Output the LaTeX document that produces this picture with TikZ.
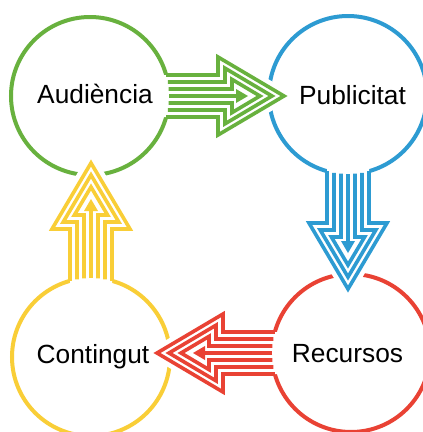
\documentclass[tikz,border=0pt]{standalone}
\usepackage{fontspec}
\setmainfont{Liberation Sans}
\definecolor{cgreen}{RGB}{104,177,62}
\definecolor{cblue}{RGB}{45,155,210}
\definecolor{cred}{RGB}{233,66,52}
\definecolor{cyellow}{RGB}{249,206,55}
\tikzset{
  ring/.style={circle, draw=#1, line width=4pt, minimum size=158pt, inner sep=0pt},
  word/.style={font=\fontsize{26.3}{30}\selectfont, anchor=base, inner sep=0pt, text=black},
  stripe/.style={draw=#1, line width=3.6pt, line join=miter, line cap=butt},
}
% Striped flow arrow leaving ring #1 in direction #2 (degrees), colour #3
\newcommand\flowarrow[3]{%
  \begin{scope}[shift={(#1.center)}, rotate=#2]
    % clear the ring under the shaft and around the head
    \fill[white] ({sqrt(5800)-4},21) -- (128,21) -- (128,39) -- (194,0)
      -- (128,-39) -- (128,-21) -- ({sqrt(5800)-4},-21) -- cycle;
    \draw[white, line width=13pt, line join=miter]
      (128,30) -- (128,39) -- (194,0) -- (128,-39) -- (128,-30);
    % nested outlines
    \draw[stripe=#3] ({sqrt(5800)},21) -- (128,21) -- (128,39) -- (194,0)
      -- (128,-39) -- (128,-21) -- ({sqrt(5800)},-21);
    \draw[stripe=#3] ({sqrt(6045)},14) -- (135,14) -- (135,27.8) -- (182,0)
      -- (135,-27.8) -- (135,-14) -- ({sqrt(6045)},-14);
    \draw[stripe=#3] ({sqrt(6192)},7) -- (142,7) -- (142,16.6) -- (170,0)
      -- (142,-16.6) -- (142,-7) -- ({sqrt(6192)},-7);
    % central arrow
    \draw[stripe=#3] (79,0) -- (150,0);
    \fill[#3] (146,7) -- (158,0) -- (146,-7) -- cycle;
  \end{scope}}
\begin{document}
\begin{tikzpicture}[x=1pt, y=-1pt]
  \useasboundingbox (0,0) rectangle (423,432);
  \fill[white] (0,0) rectangle (423,432);
  % rings
  \node[ring=cgreen]  (aud) at (90,96)   {};
  \node[ring=cblue]   (pub) at (348,95)  {};
  \node[ring=cred]    (rec) at (351,353) {};
  \node[ring=cyellow] (con) at (91,357)  {};
  % flow between the rings
  \flowarrow{aud}{0}{cgreen}
  \flowarrow{pub}{-90}{cblue}
  \flowarrow{rec}{180}{cred}
  \flowarrow{con}{90}{cyellow}
  % labels
  \node[word] (taud) at (95,103.5)  {Audiència};
  \node[word] (tpub) at (352.5,104.3) {Publicitat};
  \node[word] (tcon) at (93,363.3)  {Contingut};
  \node[word] (trec) at (347.5,362.8) {Recursos};
\end{tikzpicture}
\end{document}
